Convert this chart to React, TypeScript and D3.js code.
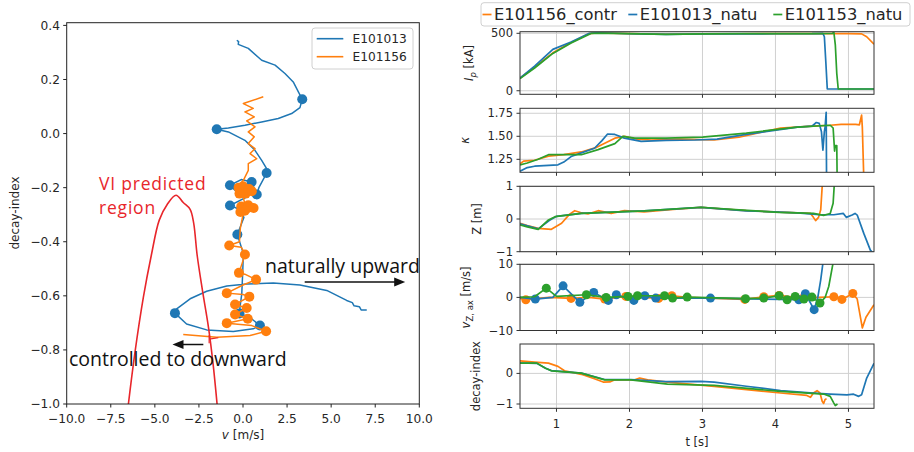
import React from 'react';
import * as d3 from 'd3';

type Pt = [number, number];

const BLUE = '#1f77b4';
const ORANGE = '#ff7f0e';
const GREEN = '#2ca02c';
const RED = '#e8262b';
const TICK_FONT = 'DejaVu Sans, sans-serif';
const NOTE_FONT = 'Open Sans, sans-serif';

// ---------- left panel: decay-index vs v [m/s]
const leftNames = ['E101013', 'E101156'];
const vTicks = [-10, -7.5, -5, -2.5, 0, 2.5, 5, 7.5, 10];
const diTicks = [-1.0, -0.8, -0.6, -0.4, -0.2, 0.0, 0.2, 0.4];

const blueTraj: Pt[] = [
  [-0.35, 0.345], [-0.25, 0.34], [-0.27, 0.33], [0.3, 0.315], [1.06, 0.271], [1.82, 0.253],
  [2.38, 0.222], [2.85, 0.191], [3.14, 0.154], [3.36, 0.127], [3.23, 0.096], [2.76, 0.074],
  [2.0, 0.056], [1.06, 0.043], [0.11, 0.031], [-0.83, 0.021], [-1.49, 0.016], [-0.83, 0.006],
  [0.11, -0.025], [0.68, -0.062], [1.06, -0.099], [1.34, -0.13], [1.34, -0.146], [0.9, -0.2],
  [0.78, -0.225], [0.49, -0.179], [-0.1, -0.17], [-0.74, -0.191], [-0.3, -0.22], [0.2, -0.235],
  [-0.74, -0.266], [-0.2, -0.28], [0.05, -0.31], [-0.32, -0.373], [0.02, -0.444], [-0.02, -0.519],
  [-0.07, -0.593], [-0.17, -0.642], [-0.2, -0.665], [0.4, -0.68], [0.96, -0.71], [0.58, -0.722],
  [-0.55, -0.732], [-2.06, -0.726], [-3.2, -0.704], [-3.86, -0.664], [-3.76, -0.648], [-3.0, -0.611],
  [-2.06, -0.583], [-0.92, -0.564], [0.21, -0.556], [1.72, -0.553], [3.23, -0.56], [4.75, -0.58],
  [5.88, -0.617], [6.2, -0.625], [6.3, -0.637], [6.6, -0.64], [6.7, -0.652], [7.02, -0.652],
];
const blueDots: Pt[] = [
  [3.36, 0.127], [-1.49, 0.016], [1.34, -0.146], [0.49, -0.179], [-0.74, -0.191], [0.78, -0.225],
  [-0.74, -0.266], [-0.32, -0.373], [-0.2, -0.665], [0.96, -0.71], [-3.86, -0.664],
];
const orangeTraj: Pt[] = [
  [1.15, 0.136], [0.02, 0.111], [0.58, 0.093], [0.11, 0.08], [0.64, 0.062], [0.21, 0.047],
  [0.68, 0.025], [0.3, 0.006], [0.64, -0.012], [0.3, -0.037], [0.68, -0.056], [0.4, -0.074],
  [0.78, -0.093], [0.3, -0.111], [0.3, -0.136], [0.02, -0.173], [-0.2, -0.19], [0.3, -0.2],
  [-0.1, -0.215], [0.4, -0.22], [0.0, -0.23], [0.1, -0.26], [0.6, -0.27], [-0.1, -0.28],
  [0.5, -0.285], [0.0, -0.3], [-0.15, -0.35], [-0.2, -0.4], [-0.78, -0.414], [-0.1, -0.42],
  [0.11, -0.447], [-0.05, -0.48], [-0.23, -0.515], [0.1, -0.52], [0.74, -0.54], [0.0, -0.56],
  [-0.92, -0.59], [0.0, -0.595], [0.36, -0.603], [-0.45, -0.632], [0.21, -0.645], [-0.45, -0.669],
  [0.27, -0.685], [-0.92, -0.701], [0.5, -0.71], [1.31, -0.731], [0.4, -0.747], [-1.49, -0.753],
  [-3.39, -0.743],
];
const orangeDots: Pt[] = [
  [-0.25, -0.2], [0.0, -0.195], [0.35, -0.205], [0.15, -0.222], [-0.2, -0.222], [0.5, -0.213],
  [-0.1, -0.27], [0.3, -0.265], [0.6, -0.275], [0.1, -0.285], [-0.15, -0.29],
  [-0.78, -0.414], [0.11, -0.447], [-0.23, -0.515], [0.74, -0.54], [-0.92, -0.59], [0.36, -0.603],
  [-0.45, -0.632], [0.21, -0.645], [-0.45, -0.669], [0.27, -0.685], [-0.92, -0.701], [1.31, -0.731],
];
const viRegion: Pt[] = [
  [-6.5, -1.0], [-6.13, -0.81], [-5.65, -0.605], [-5.2, -0.45], [-4.75, -0.32], [-4.3, -0.262],
  [-3.8, -0.228], [-3.39, -0.255], [-3.0, -0.28], [-2.8, -0.33], [-2.6, -0.45], [-2.3, -0.58],
  [-1.95, -0.72], [-1.7, -0.85], [-1.47, -1.0],
];
const viMark: Pt[] = [[-1.92, -0.745], [-1.92, -0.775], [-1.92, -0.76], [-1.4, -0.755]];
const arrowUp: Pt[] = [[3.5, -0.549], [9.2, -0.549]];
const arrowDown: Pt[] = [[-2.25, -0.78], [-4.0, -0.78]];

// ---------- right panels: value vs t [s]
const rightNames = ['E101156_contr', 'E101013_natu', 'E101153_natu'];

const ipContr: Pt[] = [[0.5, 110], [0.7, 205], [0.95, 330], [1.2, 420], [1.45, 498], [1.55, 503], [2.0, 497], [2.5, 492], [3.0, 495], [3.5, 496], [4.0, 497], [4.5, 497], [5.0, 497], [5.18, 495], [5.25, 470], [5.35, 405]];
const ipNatu13: Pt[] = [[0.5, 110], [0.7, 215], [0.95, 360], [1.2, 425], [1.45, 500], [1.55, 505], [2.0, 496], [2.5, 490], [3.0, 494], [3.5, 495], [4.0, 496], [4.5, 497], [4.65, 500], [4.67, 470], [4.69, 250], [4.71, 15], [5.35, 15]];
const ipNatu53: Pt[] = [[0.5, 105], [0.7, 198], [0.95, 325], [1.2, 415], [1.48, 500], [1.6, 502], [2.0, 497], [2.5, 491], [3.0, 495], [3.5, 497], [4.0, 497], [4.5, 497], [4.78, 500], [4.8, 510], [4.82, 400], [4.84, 150], [4.86, 15], [5.35, 15]];

const kapContr: Pt[] = [[0.5, 1.2], [0.55, 1.23], [0.7, 1.24], [0.89, 1.285], [1.1, 1.3], [1.34, 1.33], [1.55, 1.38], [1.8, 1.48], [1.93, 1.5], [2.1, 1.47], [2.3, 1.46], [2.7, 1.47], [3.16, 1.46], [3.5, 1.49], [4.07, 1.59], [4.5, 1.61], [4.75, 1.62], [4.9, 1.63], [5.1, 1.63], [5.15, 1.625], [5.18, 1.73], [5.19, 1.6], [5.21, 1.05]];
const kapNatu13: Pt[] = [[0.5, 1.12], [0.6, 1.16], [0.7, 1.175], [1.02, 1.19], [1.1, 1.22], [1.2, 1.28], [1.34, 1.32], [1.52, 1.37], [1.62, 1.45], [1.7, 1.525], [1.8, 1.52], [1.93, 1.48], [2.16, 1.445], [2.5, 1.455], [2.9, 1.46], [3.2, 1.47], [3.6, 1.52], [4.3, 1.6], [4.5, 1.61], [4.56, 1.65], [4.6, 1.64], [4.63, 1.55], [4.65, 1.35], [4.67, 1.55], [4.68, 1.6], [4.695, 1.76], [4.7, 1.05]];
const kapNatu53: Pt[] = [[0.5, 1.19], [0.6, 1.21], [0.75, 1.25], [0.89, 1.3], [1.34, 1.3], [1.57, 1.355], [1.8, 1.42], [1.91, 1.5], [2.07, 1.48], [2.5, 1.48], [3.0, 1.49], [3.6, 1.535], [4.3, 1.6], [4.75, 1.62], [4.79, 1.59], [4.81, 1.34], [4.82, 1.4], [4.84, 1.4], [4.845, 1.05]];

const zContr: Pt[] = [[0.5, -0.13], [0.6, -0.2], [0.75, -0.285], [0.93, -0.315], [1.07, -0.13], [1.18, 0.15], [1.25, 0.254], [1.33, 0.2], [1.43, 0.153], [1.57, 0.254], [1.75, 0.174], [1.93, 0.254], [2.2, 0.22], [2.6, 0.29], [2.98, 0.358], [3.3, 0.3], [3.6, 0.254], [4.3, 0.19], [4.48, 0.17], [4.52, 0.05], [4.55, -0.05], [4.59, 0.05], [4.62, 0.28], [4.64, 0.99], [4.65, 1.2]];
const zNatu13: Pt[] = [[0.5, -0.15], [0.75, -0.3], [0.9, -0.05], [1.0, 0.08], [1.34, 0.174], [2.2, 0.25], [2.98, 0.355], [3.6, 0.25], [4.3, 0.19], [4.6, 0.13], [4.8, 0.13], [4.93, 0.17], [4.97, 0.05], [5.05, 0.12], [5.09, 0.17], [5.12, 0.12], [5.21, -0.44], [5.3, -0.95], [5.34, -1.05]];
const zNatu53: Pt[] = [[0.5, -0.18], [0.6, -0.24], [0.75, -0.315], [0.89, -0.03], [0.98, 0.07], [1.34, 0.174], [2.2, 0.25], [2.98, 0.36], [3.5, 0.28], [4.05, 0.2], [4.52, 0.17], [4.66, 0.11], [4.75, 0.17], [4.79, 0.48], [4.81, 1.2]];

const vzContr: Pt[] = [[0.5, -0.3], [0.58, -0.7], [0.9, 0], [1.2, -0.3], [1.45, 0], [1.66, -0.5], [1.95, 0.3], [2.4, -0.3], [2.58, 0.5], [2.8, 0], [3.58, -0.6], [3.84, 0.2], [4.05, 0.6], [4.37, -0.3], [4.6, 0], [4.8, 0.2], [4.91, -0.6], [5.06, 1.2], [5.12, -0.5], [5.19, -9.2], [5.24, -6], [5.35, -2.2]];
const vzNatu13: Pt[] = [[0.5, 0], [0.71, -0.5], [0.95, 0], [1.09, 3.5], [1.32, -1.5], [1.51, 1.5], [1.71, -0.9], [1.82, 0.8], [2.06, -0.9], [2.21, 0.5], [2.36, -0.2], [3.11, -0.2], [4.32, -0.7], [4.41, 1.1], [4.53, -3.7], [4.58, 0], [4.62, 5.3], [4.66, 12]];
const vzNatu53: Pt[] = [[0.5, 0], [0.7, 0.2], [0.86, 2.8], [1.0, 0.3], [1.41, 0.8], [1.68, 0], [1.98, 0.3], [2.11, 0.5], [2.48, 0.5], [2.59, -0.2], [2.79, 0.1], [3.59, -0.4], [3.84, -0.2], [4.05, 0.5], [4.16, -0.7], [4.27, 0.3], [4.39, -0.5], [4.5, 0.1], [4.61, -1.7], [4.68, 0], [4.73, 3.3], [4.79, 10.5], [4.8, 12]];
const vzDotsContr: Pt[] = [[0.58, -0.7], [1.2, -0.3], [1.66, -0.5], [1.95, 0.3], [2.4, -0.3], [2.58, 0.5], [3.58, -0.6], [3.84, 0.2], [4.05, 0.6], [4.37, -0.3], [4.8, 0.2], [4.91, -0.6], [5.06, 1.2]];
const vzDotsNatu13: Pt[] = [[0.71, -0.5], [1.09, 3.5], [1.32, -1.5], [1.51, 1.5], [1.71, -0.9], [1.82, 0.8], [2.06, -0.9], [2.21, 0.5], [2.36, -0.2], [3.11, -0.2], [4.32, -0.7], [4.41, 1.1], [4.53, -3.7]];
const vzDotsNatu53: Pt[] = [[0.86, 2.8], [1.41, 0.8], [1.68, 0], [1.98, 0.3], [2.11, 0.5], [2.48, 0.5], [2.59, -0.2], [2.79, 0.1], [3.59, -0.4], [3.84, -0.2], [4.05, 0.5], [4.16, -0.7], [4.27, 0.3], [4.39, -0.5], [4.5, 0.1], [4.61, -1.7]];

const diContr: Pt[] = [[0.5, 0.41], [0.7, 0.37], [0.89, 0.335], [1.02, 0.23], [1.11, 0.085], [1.34, -0.03], [1.52, -0.176], [1.64, -0.283], [1.73, -0.28], [1.8, -0.21], [2.07, -0.21], [2.14, -0.153], [2.25, -0.21], [2.52, -0.283], [3.16, -0.424], [4.07, -0.64], [4.43, -0.72], [4.48, -0.78], [4.52, -0.64], [4.57, -0.565], [4.61, -0.64], [4.64, -0.91], [4.66, -0.98], [4.68, -0.85], [4.7, -0.83]];
const diNatu13: Pt[] = [[0.5, 0.34], [0.73, 0.33], [0.85, 0.17], [0.93, 0.09], [1.34, 0.01], [1.66, -0.2], [2.02, -0.2], [2.5, -0.27], [2.98, -0.26], [3.16, -0.283], [3.6, -0.42], [4.07, -0.56], [4.52, -0.64], [4.75, -0.675], [4.98, -0.7], [5.07, -0.68], [5.14, -0.75], [5.18, -0.7], [5.25, -0.153], [5.35, 0.33]];
const diNatu53: Pt[] = [[0.5, 0.335], [0.73, 0.335], [0.85, 0.17], [0.93, 0.085], [1.34, 0.01], [1.66, -0.21], [2.02, -0.21], [2.52, -0.35], [3.16, -0.39], [4.07, -0.59], [4.66, -0.675], [4.75, -0.75], [4.8, -0.97], [4.82, -1.05], [4.85, -1.0]];

const tTicks = [1, 2, 3, 4, 5];

export default function App() {
  // left axes
  const xL = d3.scaleLinear().domain([-10, 10]).range([66.7, 419.3]);
  const yL = d3.scaleLinear().domain([-1, 0.41]).range([404, 22.7]);
  const lineL = d3.line<Pt>().x(d => xL(d[0])).y(d => yL(d[1]));
  const fmt1 = d3.format('.1f');

  // right axes
  const xR = d3.scaleLinear().domain([0.5, 5.35]).range([520, 874]);
  const panels = [
    { id: 'ip', dom: [-31, 514], rng: [94.3, 31.7], ticks: [0, 500], fmt: d3.format('d'), lx: 473,
      label: <><tspan fontStyle="italic">I</tspan><tspan fontStyle="italic" fontSize={8.5} dy={3}>p</tspan><tspan dy={-3}> [kA]</tspan></>,
      series: [ipContr, ipNatu13, ipNatu53], dots: null as Pt[][] | null },
    { id: 'kap', dom: [1.109, 1.804], rng: [172.3, 108.3], ticks: [1.25, 1.5, 1.75], fmt: d3.format('.2f'), lx: 469,
      label: <tspan fontStyle="italic">κ</tspan>, series: [kapContr, kapNatu13, kapNatu53], dots: null },
    { id: 'z', dom: [-1, 1], rng: [251.7, 186.3], ticks: [-1, 0, 1], fmt: d3.format('d'), lx: 481,
      label: <tspan>Z [m]</tspan>, series: [zContr, zNatu13, zNatu53], dots: null },
    { id: 'vz', dom: [-10, 10], rng: [330.5, 264.3], ticks: [-10, 0, 10], fmt: d3.format('d'), lx: 470,
      label: <><tspan fontStyle="italic">v</tspan><tspan fontSize={8.5} dy={3}>Z, ax</tspan><tspan dy={-3}> [m/s]</tspan></>,
      series: [vzContr, vzNatu13, vzNatu53], dots: [vzDotsContr, vzDotsNatu13, vzDotsNatu53] },
    { id: 'di', dom: [-1.14, 0.96], rng: [408.3, 344], ticks: [-1, 0], fmt: d3.format('d'), lx: 480,
      label: <tspan>decay-index</tspan>, series: [diContr, diNatu13, diNatu53], dots: null },
  ];
  const rColors = [ORANGE, BLUE, GREEN];

  const arrowHead = (p: Pt[], color: string) => {
    const x1 = xL(p[1][0]), y1 = yL(p[1][1]);
    const dir = Math.sign(xL(p[1][0]) - xL(p[0][0]));
    return <g>
      <line x1={xL(p[0][0])} y1={yL(p[0][1])} x2={x1 - dir * 8} y2={y1} stroke={color} strokeWidth={1.5} />
      <polygon points={`${x1},${y1} ${x1 - dir * 11},${y1 - 4.5} ${x1 - dir * 11},${y1 + 4.5}`} fill={color} />
    </g>;
  };

  return (
    <svg width={914} height={452} style={{ position: 'absolute', left: 0, top: 0, background: '#fff' }}
      fontFamily={TICK_FONT}>
      <defs>
        <clipPath id="clipL"><rect x={66.7} y={22.7} width={352.6} height={381.3} /></clipPath>
        {panels.map(p => (
          <clipPath key={p.id} id={`clip-${p.id}`}>
            <rect x={520} y={p.rng[1]} width={354} height={p.rng[0] - p.rng[1]} />
          </clipPath>
        ))}
      </defs>

      {/* ---------- left panel ---------- */}
      <g clipPath="url(#clipL)">
        <path d={lineL(blueTraj) ?? ''} fill="none" stroke={BLUE} strokeWidth={1.5} strokeLinejoin="round" />
        {blueDots.map((d, i) => <circle key={i} cx={xL(d[0])} cy={yL(d[1])} r={5} fill={BLUE} />)}
        <path d={lineL(orangeTraj) ?? ''} fill="none" stroke={ORANGE} strokeWidth={1.5} strokeLinejoin="round" />
        {orangeDots.map((d, i) => <circle key={i} cx={xL(d[0])} cy={yL(d[1])} r={5} fill={ORANGE} />)}
        <path d={d3.line<Pt>().x(d => xL(d[0])).y(d => yL(d[1])).curve(d3.curveCatmullRom)(viRegion) ?? ''}
          fill="none" stroke={RED} strokeWidth={1.6} />
        <path d={lineL(viMark) ?? ''} fill="none" stroke={RED} strokeWidth={1.2} />
      </g>
      {arrowHead(arrowUp, '#111')}
      {arrowHead(arrowDown, '#111')}
      <text x={99} y={190} fontFamily={NOTE_FONT} fontSize={17.5} letterSpacing={0.8} fill={RED}>VI predicted</text>
      <text x={99} y={214} fontFamily={NOTE_FONT} fontSize={17.5} letterSpacing={0.8} fill={RED}>region</text>
      <text x={265} y={273} fontFamily={NOTE_FONT} fontSize={19.5} fill="#111">naturally upward</text>
      <text x={69} y={366} fontFamily={NOTE_FONT} fontSize={19.5} fill="#111">controlled to downward</text>

      <rect x={66.7} y={22.7} width={352.6} height={381.3} fill="none" stroke="#222" strokeWidth={1} />
      {vTicks.map(t => (
        <g key={t}>
          <line x1={xL(t)} x2={xL(t)} y1={404} y2={407.5} stroke="#222" />
          <text x={xL(t)} y={423} textAnchor="middle" fontSize={12.2} fill="#262626">{fmt1(t)}</text>
        </g>
      ))}
      {diTicks.map(t => (
        <g key={t}>
          <line x1={63.2} x2={66.7} y1={yL(t)} y2={yL(t)} stroke="#222" />
          <text x={60} y={yL(t) + 4.3} textAnchor="end" fontSize={12.2} fill="#262626">{fmt1(t)}</text>
        </g>
      ))}
      <text x={243} y={439} textAnchor="middle" fontSize={12} fill="#262626">
        <tspan fontStyle="italic">v</tspan> [m/s]</text>
      <text transform="translate(19,213) rotate(-90)" textAnchor="middle" fontSize={12} fill="#262626">decay-index</text>

      <g>
        <rect x={312} y={28} width={101} height={41} rx={3} fill="#fff" fillOpacity={0.8} stroke="#d0d0d0" />
        {leftNames.map((n, i) => (
          <g key={n}>
            <line x1={316.7} x2={343.3} y1={38.7 + i * 18} y2={38.7 + i * 18} stroke={i === 0 ? BLUE : ORANGE} strokeWidth={1.6} />
            <text x={352.5} y={43 + i * 18} fontSize={12.2} fill="#262626">{n}</text>
          </g>
        ))}
      </g>

      {/* ---------- right panels ---------- */}
      {panels.map(p => {
        const y = d3.scaleLinear().domain(p.dom).range(p.rng);
        const line = d3.line<Pt>().x(d => xR(d[0])).y(d => y(d[1]));
        const top = p.rng[1], bot = p.rng[0];
        return (
          <g key={p.id}>
            {tTicks.map(t => <line key={t} x1={xR(t)} x2={xR(t)} y1={top} y2={bot} stroke="#d0d0d0" strokeWidth={1} />)}
            {p.ticks.map(t => <line key={t} x1={520} x2={874} y1={y(t)} y2={y(t)} stroke="#d0d0d0" strokeWidth={1} />)}
            <g clipPath={`url(#clip-${p.id})`}>
              {p.series.map((s, i) => (
                <g key={i}>
                  <path d={line(s) ?? ''} fill="none" stroke={rColors[i]} strokeWidth={1.7} strokeLinejoin="round" />
                  {p.dots && p.dots[i].map((d, j) => <circle key={j} cx={xR(d[0])} cy={y(d[1])} r={4.5} fill={rColors[i]} />)}
                </g>
              ))}
            </g>
            <rect x={520} y={top} width={354} height={bot - top} fill="none" stroke="#333" strokeWidth={1} />
            {tTicks.map(t => <line key={t} x1={xR(t)} x2={xR(t)} y1={bot} y2={bot + 3.5} stroke="#333" />)}
            {p.ticks.map(t => (
              <g key={t}>
                <line x1={516.5} x2={520} y1={y(t)} y2={y(t)} stroke="#333" />
                <text x={513} y={y(t) + 4} textAnchor="end" fontSize={11.5} fill="#262626">{p.fmt(t)}</text>
              </g>
            ))}
            <text transform={`translate(${p.lx},${(top + bot) / 2}) rotate(-90)`} textAnchor="middle" fontSize={11.5} fill="#262626">{p.label}</text>
          </g>
        );
      })}
      {tTicks.map(t => (
        <text key={t} x={xR(t)} y={428} textAnchor="middle" fontSize={11.5} fill="#262626">{t}</text>
      ))}
      <text x={697} y={446} textAnchor="middle" fontSize={11.5} fill="#262626">t [s]</text>

      <g>
        <rect x={481} y={2.7} width={429} height={23.3} rx={3} fill="#fff" stroke="#d0d0d0" />
        {rightNames.map((n, i) => {
          const x0 = [482.5, 628.3, 773.3][i];
          return (
            <g key={n}>
              <line x1={x0} x2={x0 + 9} y1={14.5} y2={14.5} stroke={rColors[i]} strokeWidth={1.7} />
              <text x={x0 + 11.5} y={20} fontSize={16.3} fill="#262626">{n}</text>
            </g>
          );
        })}
      </g>
    </svg>
  );
}
